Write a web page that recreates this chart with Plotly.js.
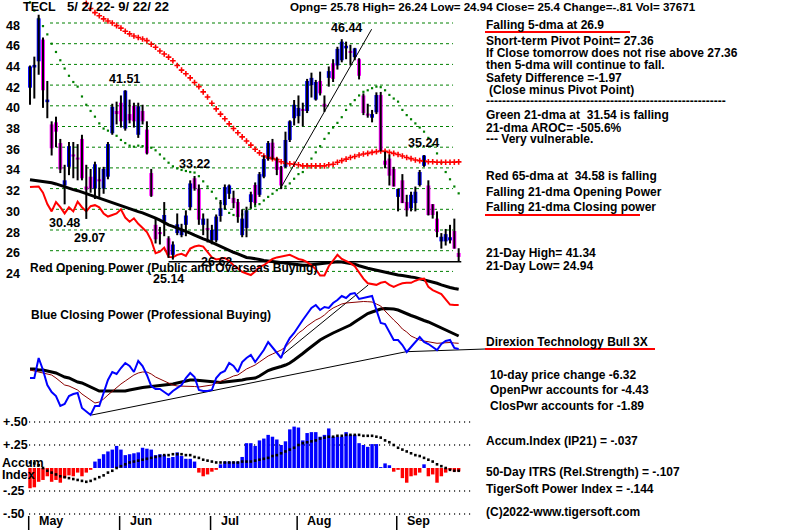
<!DOCTYPE html>
<html><head><meta charset="utf-8">
<script src="https://cdn.plot.ly/plotly-3.0.1.min.js"></script>
<style>html,body{margin:0;padding:0;background:#fff;}#chart{width:800px;height:530px;}</style>
</head><body><div id="chart"></div>
<script>
// ---- Daily OHLC, TECL 5/2/22 - 9/22/22 (trading-day index 0..99)
const opens = [41.75,43.7,44.3,46.4,40.35,38.2,38.4,36.4,32.3,34.1,
35.3,35.0,36.8,32.2,33.15,32.0,32.9,32.0,33.15,37.35,
39.5,40.3,37.8,39.2,40.0,37.2,39.5,37.7,33.5,28.5,
27.8,28.8,27.2,25.6,27.7,27.5,28.5,30.2,33.0,32.0,
28.5,28.2,27.0,27.0,29.35,30.4,31.5,31.1,30.7,27.5,
28.2,30.7,32.35,31.4,33.15,34.86,36.44,34.9,34.1,34.1,
36.7,38.8,39.0,39.7,39.5,42.0,40.6,42.4,40.2,42.7,
44.1,43.9,44.4,45.55,45.3,44.7,44.5,41.0,39.2,38.85,
39.37,41.04,34.7,34.9,33.9,31.2,32.8,30.7,30.1,30.6,
32.35,34.2,32.3,30.5,29.1,26.9,26.9,27.0,27.9,25.78];
const highs = [43.9,44.75,48.8,46.6,42.4,38.5,38.95,36.8,34.3,36.5,
36.5,36.3,37.2,34.3,33.9,34.6,34.0,34.1,36.5,40.2,
40.4,41.0,41.51,40.6,40.3,40.3,40.1,38.5,33.9,29.1,
28.3,30.7,27.4,26.9,29.6,28.6,29.9,32.8,33.22,32.4,
29.6,29.1,28.5,29.5,30.9,32.4,32.4,31.8,31.0,30.0,
30.25,31.7,32.6,33.6,35.2,36.6,36.8,35.0,34.2,37.5,
38.6,40.56,41.0,40.3,42.6,43.2,42.5,43.3,41.0,43.8,
44.5,45.7,46.44,46.2,45.9,45.6,44.6,41.2,40.2,39.6,
41.3,41.34,35.57,35.3,34.1,32.0,33.4,31.4,31.7,32.2,
33.8,35.24,32.8,30.5,29.8,27.7,28.1,28.5,29.1,26.24];
const lows = [40.1,40.7,43.0,39.8,38.8,35.2,36.0,33.5,30.48,33.3,
33.0,32.8,32.8,29.07,31.6,31.0,31.2,31.5,32.9,37.2,
38.2,37.9,37.6,38.3,37.9,36.9,38.2,35.3,31.2,26.7,
26.6,27.4,25.3,25.14,27.5,27.3,27.4,29.9,31.8,28.5,
27.5,26.8,26.62,26.8,28.8,30.0,31.0,30.1,28.7,27.3,
27.3,30.1,30.4,31.2,33.0,34.7,34.8,33.3,31.95,34.0,
36.5,38.1,38.3,38.0,39.3,40.8,40.5,41.0,39.4,41.85,
42.3,43.5,44.2,44.5,43.9,44.4,42.55,39.1,38.85,38.4,
39.2,35.6,33.96,32.3,32.2,29.8,30.6,29.3,29.8,29.8,
32.2,34.1,29.4,29.1,27.3,26.2,26.5,26.7,26.2,24.94];
const closes = [43.8,43.95,48.45,41.5,40.6,35.9,37.5,33.85,32.8,36.1,
35.1,34.8,33.0,31.9,32.0,34.35,32.7,33.9,36.3,39.9,
39.2,38.5,41.46,38.6,38.5,39.95,38.5,35.4,31.3,27.1,
27.6,29.45,25.6,26.6,28.55,28.1,29.4,32.5,32.0,29.0,
29.1,28.0,28.0,29.3,30.1,32.15,32.3,30.6,29.25,29.1,
29.9,31.45,30.6,33.4,34.86,36.4,34.9,33.8,32.3,36.7,
38.5,40.1,39.8,39.5,42.4,42.7,42.3,41.2,39.9,43.35,
42.6,45.5,46.2,45.8,45.1,45.55,42.9,39.3,39.05,39.2,
41.04,35.7,34.3,33.25,32.2,31.96,30.6,29.9,31.4,31.7,
33.6,35.2,29.45,29.45,27.8,27.35,27.6,27.3,26.2,25.4];

// ---- Moving averages (price units)
const ma21 = [50.0,49.2,48.4,47.7,46.9,46.0,45.2,44.4,43.6,42.9,
42.3,41.85,40.9,40.1,39.5,38.95,38.3,37.8,37.6,37.5,
37.1,36.7,36.4,36.15,36.05,36.15,36.1,35.95,35.95,35.7,
35.3,34.9,34.5,34.15,33.95,33.8,33.7,33.6,33.55,33.2,
32.7,32.2,31.7,31.05,30.6,30.05,29.65,29.45,29.4,29.5,
29.8,30.1,30.3,30.5,30.85,31.2,31.5,31.85,32.1,32.2,
32.5,32.95,33.4,33.6,34.3,34.9,35.5,36.1,36.8,37.35,
37.9,38.35,38.9,39.6,40.15,40.55,41.0,41.35,41.5,41.7,
41.85,41.8,41.5,41.05,40.7,40.4,39.6,39.1,38.7,38.3,
37.9,37.5,36.9,36.2,35.4,34.5,33.6,32.9,32.2,31.54];
const ma65Start = 13;
const ma65 = [49.9,49.4,49.0,48.7,48.4,48.2,48.0,
47.75,47.5,47.2,46.95,46.75,46.6,46.45,46.3,45.95,45.65,
45.3,45.0,44.7,44.35,43.9,43.45,43.1,42.7,42.25,41.85,
41.35,40.85,40.25,39.7,39.2,38.75,38.25,37.8,37.4,37.0,
36.6,36.2,35.8,35.45,35.15,35.0,34.9,34.8,34.6,34.45,
34.4,34.35,34.3,34.2,34.2,34.2,34.2,34.2,34.2,34.3,
34.35,34.55,34.7,34.85,35.0,35.1,35.25,35.35,35.4,35.5,
35.57,35.63,35.6,35.5,35.4,35.3,35.15,35.0,34.9,34.76,
34.7,34.65,34.6,34.6,34.55,34.55,34.55,34.55,34.56,34.58];

// ---- Opening Power (drawn on price scale) and its 21-dma
const openPower = [32.15,32.2,32.2,31.6,30.5,29.8,30.7,30.2,29.6,30.2,
29.8,30.74,30.2,29.8,30.3,30.4,30.2,29.6,29.3,29.45,
29.6,30.0,29.2,28.8,29.13,28.6,28.2,27.8,27.0,25.75,
25.9,26.3,25.4,25.36,25.6,25.7,25.5,26.2,26.4,26.5,
26.4,25.9,25.36,25.15,25.2,25.3,25.0,24.6,24.3,23.95,
23.8,23.65,24.0,24.45,24.6,24.9,25.2,25.35,25.45,25.55,
25.6,25.4,25.2,25.1,24.9,24.6,24.2,23.6,23.6,24.5,
25.1,25.6,25.2,25.0,24.8,24.5,23.9,23.3,22.85,22.8,
22.7,22.9,23.0,22.7,22.5,22.7,22.85,22.9,22.9,23.1,
23.25,23.3,22.5,22.2,22.0,21.8,21.3,20.8,20.75,20.75];
const openPowerMA = [32.85,32.8,32.75,32.7,32.65,32.57,32.45,32.3,32.15,32.0,
31.9,31.8,31.65,31.55,31.4,31.2,31.05,30.9,30.75,30.6,
30.45,30.3,30.15,30.0,29.9,29.77,29.65,29.5,29.35,29.15,
28.95,28.7,28.5,28.35,28.2,28.0,27.85,27.7,27.5,27.3,
27.15,27.0,26.8,26.6,26.4,26.2,26.0,25.85,25.7,25.5,
25.35,25.3,25.25,25.15,25.05,25.0,24.95,24.9,24.8,24.75,
24.7,24.65,24.6,24.6,24.6,24.65,24.7,24.75,24.8,24.9,
24.94,24.94,24.9,24.85,24.8,24.7,24.55,24.4,24.3,24.2,
24.1,24.0,23.95,23.85,23.75,23.65,23.6,23.5,23.45,23.4,
23.3,23.2,23.1,23.0,22.85,22.7,22.55,22.45,22.35,22.27];

// ---- Closing Power (arbitrary units), its 21-dma and fast average
const closPower = [152,152,172,160,145,138,134,124,126,134,
136,137,122,118,115,124,124,137,150,158,
156,162,167,164,158,169,164,155,144,141,
141,138,135,139,142,145,152,157,153,140,
139,139,140,152,157,159,167,164,158,168,
172,175,168,174,180,188,183,178,172,184,
192,197,204,210,216,222,225,220,223,222,
227,230,234,232,236,237,231,232,233,234,
220,207,206,198,190,190,185,178,183,188,
193,188,186,183,180,186,189,190,182,181];
const closPowerMA = [161,161,160,160,159,158,157,155,153,152,
150,148,147,145,143,141,139,139,139,139,
138.5,138.5,139,140,141,142,142.5,143,143.5,144,
144,144.5,145,146,147,148,149,150,150,149.5,
149,148.5,148,147.5,147.5,148,148.5,149,149,150,
151,151.5,152,154,157,159.5,161,162,163.5,165,
167,170,173,176.5,180,183.5,187,190,192.5,195,
197,199,201,203,205,208,211,214,216.5,218,
219.5,221,221.5,221.5,221,220,218,216,214.5,213,
211,209.5,208,206,204,202,200,198,196,194];
const closPowerFast = [160,159,158,157,156,155,152,148,145,144,
142,140,136,133,130,127,128,131,135,139,
143,146,149,152,155,157,158,158,156,153,
151,149,147,145,144,144,144,144,143.5,143,
143.5,144,145,147,148.5,150,152,154,155,158,
161,163,165,168,171,174,176,178,180,183,
187,192,197,200,204,207,210,212,215,219,
222,224,226,227,227.5,228,228,228.5,228.3,228,
226,224,219,214,210,206,201,198,194,192,
190,189,188,187,186.7,187,187.5,187.5,187,186.7];
const cpSupportX = [14.25, 86.9, 105.1];
const cpSupportY = [115, 178.3, 181];
const cpUptrendX = [57.7, 78.1];
const cpUptrendY = [173, 245];
const priceTrendX = [58.1, 78.9];
const priceTrendY = [32.2, 47.4];
const lowLineX = [32, 99.6];
const lowLineY = [24.94, 24.94];

// ---- Accumulation Index (IP21) and ITRS line
const accumIndex = [-0.22,-0.21,-0.15,-0.13,-0.09,-0.15,-0.13,-0.16,-0.11,-0.08,
-0.09,-0.05,-0.09,-0.05,-0.02,0.07,0.10,0.15,0.18,0.20,
0.24,0.20,0.14,0.15,0.16,0.17,0.22,0.21,0.20,0.14,
0.15,0.14,0.11,0.12,0.17,0.13,0.10,0.10,0.07,-0.05,
-0.09,-0.07,-0.04,-0.02,0.04,0.07,0.07,0.07,0.07,0.12,
0.27,0.27,0.24,0.30,0.32,0.36,0.34,0.31,0.25,0.29,
0.42,0.45,0.44,0.30,0.38,0.39,0.39,0.34,0.36,0.43,
0.34,0.34,0.34,0.39,0.36,0.36,0.27,0.25,0.23,0.26,
0.26,0.01,0.05,0.03,-0.04,-0.02,-0.11,-0.16,-0.09,-0.08,
-0.05,0.04,-0.09,-0.07,-0.16,-0.09,-0.05,-0.02,-0.04,-0.037];
const itrsLine = [0.06,0.05,0.03,0.0,-0.03,-0.05,-0.07,-0.09,-0.10,-0.11,
-0.12,-0.13,-0.14,-0.15,-0.14,-0.12,-0.10,-0.08,-0.05,-0.03,
0.0,0.02,0.04,0.06,0.07,0.08,0.09,0.10,0.11,0.12,
0.13,0.14,0.14,0.15,0.15,0.15,0.14,0.14,0.12,0.11,
0.09,0.08,0.07,0.06,0.06,0.06,0.06,0.06,0.06,0.07,
0.07,0.07,0.08,0.09,0.10,0.11,0.13,0.14,0.16,0.18,
0.20,0.22,0.25,0.27,0.28,0.29,0.30,0.32,0.33,0.34,
0.34,0.35,0.35,0.36,0.36,0.36,0.36,0.35,0.35,0.35,
0.34,0.33,0.30,0.28,0.25,0.22,0.20,0.18,0.16,0.14,
0.13,0.11,0.09,0.07,0.04,0.02,0.00,-0.02,-0.03,-0.03];

// ---- Axis labels
const priceTicks = [48,46,44,42,40,38,36,34,32,30,28,26,24];
const accumTicks = [0.5,0.25,-0.25,-0.5];
const accumTickText = ['+.50','+.25','-.25','-.50'];
const monthLabels = ['May','Jun','Jul','Aug','Sep'];
const monthStart = [0,21,42,62,85];

// ---- Peak / trough labels
const peakText = ['41.51','46.44','33.22','35.24','30.48','29.07','25.14','26.62'];
const peakPos = [[108,79],[330,28],[178,164],[407,143],[48,223],[73,238],[152,279],[200,262]];

const rightNotes = [
 ['Falling 5-dma at 26.9',485,25],
 ['Short-term Pivot Point= 27.36',485,41],
 ['If Close tomorrow does not rise above 27.36',485,53],
 ['then 5-dma will continue to fall.',485,65],
 ['Safety Difference =-1.97',485,78],
 ['(Close minus Pivot Point)',488,90],
 ['------------------------------------------------------------',485,101],
 ['Green 21-dma at \u00a031.54 is falling',485,115],
 ['21-dma AROC= -505.6%',485,128],
 ['--- Very vulnerable.',485,139],
 ['Red 65-dma at \u00a034.58 is falling',485,176],
 ['Falling 21-dma Opening Power',485,192],
 ['Falling 21-dma Closing power',485,207],
 ['21-Day High= 41.34',485,253],
 ['21-Day Low= 24.94',485,266],
 ['Direxion Technology Bull 3X',485,342],
 ['10-day price change -6.32',489,375],
 ['OpenPwr accounts for -4.43',489,390],
 ['ClosPwr accounts for -1.89',489,406],
 ['Accum.Index (IP21) = -.037',485,441],
 ['50-Day ITRS (Rel.Strength) = -.107',485,472],
 ['TigerSoft Power Index = -.144',485,489],
 ['(C)2022-www.tigersoft.com',485,512]
];

// ================= build =================
const W = 800, H = 530;
const FONT = 'Liberation Sans, Arial, sans-serif';
const N = closes.length;
const idx = closes.map((_, i) => i);
const px = x => x / W, py = y => 1 - y / H;

const wx = [], wy = [];
const upX = [], upB = [], upH = [], dnX = [], dnB = [], dnH = [];
for (let i = 0; i < N; i++) {
  wx.push(i, i, null); wy.push(lows[i], highs[i], null);
  const lo = Math.min(opens[i], closes[i]);
  const h = Math.max(Math.abs(closes[i] - opens[i]), 0.2);
  if (closes[i] >= opens[i]) { upX.push(i); upB.push(lo); upH.push(h); }
  else { dnX.push(i); dnB.push(lo); dnH.push(h); }
}
const aPosX = [], aPos = [], aNegX = [], aNeg = [];
accumIndex.forEach((v, i) => { if (v >= 0) { aPosX.push(i); aPos.push(v); } else { aNegX.push(i); aNeg.push(v); } });

const traces = [
  // accumulation panel
  {type:'bar', x:aPosX, y:aPos, base:0, width:0.8, marker:{color:'#0000ff', line:{width:0}}, xaxis:'x', yaxis:'y3'},
  {type:'bar', x:aNegX, y:aNeg, base:0, width:0.8, marker:{color:'#ff0000', line:{width:0}}, xaxis:'x', yaxis:'y3'},
  {type:'scatter', mode:'markers', x:idx, y:itrsLine, marker:{symbol:'square', size:2.6, color:'#000000'}, xaxis:'x', yaxis:'y3'},
  // closing power panel
  {type:'scatter', mode:'lines', x:cpSupportX, y:cpSupportY, line:{color:'#000000', width:1}, xaxis:'x', yaxis:'y2'},
  {type:'scatter', mode:'lines', x:cpUptrendX, y:cpUptrendY, line:{color:'#000000', width:1}, xaxis:'x', yaxis:'y2'},
  {type:'scatter', mode:'lines', x:idx, y:closPowerMA, line:{color:'#000000', width:3}, xaxis:'x', yaxis:'y2'},
  {type:'scatter', mode:'lines', x:idx, y:closPowerFast, line:{color:'#8b0000', width:1}, xaxis:'x', yaxis:'y2'},
  {type:'scatter', mode:'lines', x:idx, y:closPower, line:{color:'#0000ff', width:2}, xaxis:'x', yaxis:'y2'},
  // opening power (on price scale)
  {type:'scatter', mode:'lines', x:lowLineX, y:lowLineY, line:{color:'#000000', width:1.5}, xaxis:'x', yaxis:'y'},
  {type:'scatter', mode:'lines', x:idx, y:openPowerMA, line:{color:'#000000', width:3}, xaxis:'x', yaxis:'y'},
  {type:'scatter', mode:'lines', x:idx, y:openPower, line:{color:'#ff0000', width:2}, xaxis:'x', yaxis:'y'},
  // moving averages
  {type:'scatter', mode:'markers', x:idx, y:ma21, marker:{symbol:'square', size:2.2, color:'#008000', line:{width:0}}, xaxis:'x', yaxis:'y'},
  {type:'scatter', mode:'markers', x:ma65.map((_, k) => k + ma65Start), y:ma65,
    marker:{symbol:'cross-thin', size:4, color:'#ff0000', line:{color:'#ff0000', width:1.6}}, xaxis:'x', yaxis:'y'},
  {type:'scatter', mode:'lines', x:priceTrendX, y:priceTrendY, line:{color:'#000000', width:1}, xaxis:'x', yaxis:'y'},
  // candles
  {type:'scatter', mode:'lines', x:wx, y:wy, line:{color:'#000000', width:2}, connectgaps:false, xaxis:'x', yaxis:'y'},
  {type:'bar', x:upX, y:upH, base:upB, width:0.9, marker:{color:'#0000ff', line:{width:0}}, xaxis:'x', yaxis:'y'},
  {type:'bar', x:dnX, y:dnH, base:dnB, width:0.9, marker:{color:'#ff00ff', line:{width:0}}, xaxis:'x', yaxis:'y'}
];

// index <-> pixel: x_px = 30 + 4.33*i
const xr = [(0 - 30) / 4.33, (W - 30) / 4.33];
const shapes = [];
priceTicks.forEach(v => shapes.push({type:'line', xref:'x', yref:'y', x0:4.62, x1:97.7, y0:v, y1:v,
  line:{color:'#008000', width:1, dash:'3px,3px'}, layer:'below'}));
accumTicks.forEach(v => shapes.push({type:'line', xref:'x', yref:'y3', x0:-0.2, x1:102.2, y0:v, y1:v,
  line:{color:'#000000', width:1.3, dash:'1px,4px'}, layer:'below'}));
monthStart.forEach(m => shapes.push({type:'line', xref:'x', yref:'paper', x0:m - 0.3, x1:m - 0.3, y0:py(530), y1:py(516),
  line:{color:'#000000', width:1.5}}));
[[485,630,32],[485,640,215],[485,655,349]].forEach(u => shapes.push({type:'line', xref:'paper', yref:'paper',
  x0:px(u[0]), x1:px(u[1]), y0:py(u[2]), y1:py(u[2]), line:{color:'#ff0000', width:2}}));

const ann = [];
const txt = (t, x, y, size, anchor) => ({text:'<b>' + t + '</b>', xref:'paper', yref:'paper', x:px(x), y:py(y),
  xanchor:anchor || 'left', yanchor:'middle', showarrow:false, borderpad:0,
  font:{family:FONT, size:size || 12, color:'#000000'}});
ann.push(txt('TECL', 22, 6.5, 12.5));
ann.push(txt('5/ 2/ 22- 9/ 22/ 22', 66, 6.5, 13));
ann.push(txt('Opng= 25.78 High= 26.24 Low= 24.94 Close= 25.4 Change=-.81 Vol= 37671', 289, 6.5, 11.6));
priceTicks.forEach(v => ann.push({text:'<b>' + v + '</b>', xref:'paper', yref:'y', x:px(12.5), y:v, yshift:-2.5,
  xanchor:'center', yanchor:'middle', showarrow:false, font:{family:FONT, size:12.5, color:'#000000'}}));
accumTicks.forEach((v, k) => ann.push({text:'<b>' + accumTickText[k] + '</b>', xref:'paper', yref:'y3', x:px(1), y:v,
  xanchor:'left', yanchor:'middle', showarrow:false, font:{family:FONT, size:12.5, color:'#000000'}}));
ann.push(txt('Accum', 1, 463, 12.5));
ann.push(txt('Index', 1, 475, 12.5));
monthLabels.forEach((m, k) => ann.push({text:'<b>' + m + '</b>', xref:'x', yref:'paper', x:monthStart[k] - 0.3, xshift:8,
  y:py(521), xanchor:'left', yanchor:'middle', showarrow:false, font:{family:FONT, size:12.5, color:'#000000'}}));
peakText.forEach((t, k) => ann.push(txt(t, peakPos[k][0], peakPos[k][1], 12.5)));
ann.push(txt('Red Opening Power (Public and Overseas Buying)', 29, 268, 12));
ann.push(txt('Blue Closing Power (Professional Buying)', 30, 315, 12));
rightNotes.forEach(r => ann.push(txt(r[0], r[1], r[2], 12)));

const layout = {
  width: W, height: H, margin:{l:0, r:0, t:0, b:0, pad:0},
  paper_bgcolor:'#ffffff', plot_bgcolor:'#ffffff', showlegend:false, barmode:'overlay',
  xaxis:{range:xr, visible:false, fixedrange:true},
  yaxis:{range:[48 - (H - 23) / 10.35, 48 + 23 / 10.35], visible:false, fixedrange:true},
  yaxis2:{range:[0, H], overlaying:'y', visible:false, fixedrange:true},
  yaxis3:{range:[(468 - H) / 92, 468 / 92], overlaying:'y', visible:false, fixedrange:true},
  shapes: shapes, annotations: ann
};
Plotly.newPlot('chart', traces, layout, {staticPlot:true, displayModeBar:false});
</script></body></html>
